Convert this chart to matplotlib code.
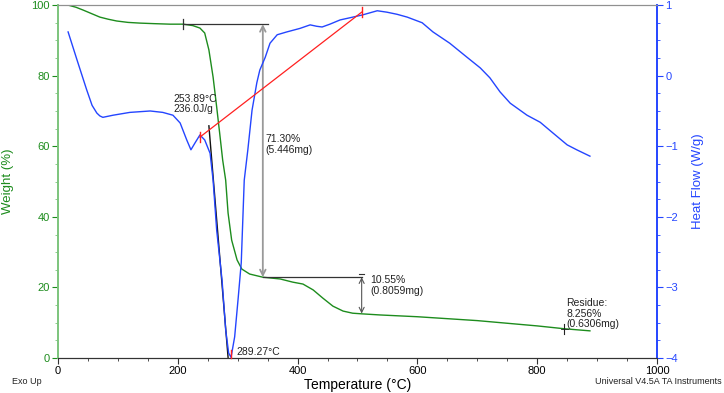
import matplotlib
matplotlib.use("Agg")
import matplotlib.pyplot as plt
from matplotlib.ticker import MultipleLocator

plt.rcParams['font.family'] = ['Liberation Sans', 'DejaVu Sans']

# --- TGA weight curve (%) ---
tga_temp = [17, 30, 42, 56, 70, 84, 98, 117, 137, 160, 187, 209, 225, 237, 245, 252, 259, 265, 270, 275, 280,
            284, 290, 299, 307, 320, 342, 371, 392, 409, 426, 442, 459, 476, 492, 509, 538,
            600, 700, 800, 845, 888]
tga_weight = [100, 99.4, 98.6, 97.6, 96.6, 96.0, 95.5, 95.1, 94.9, 94.75, 94.6, 94.6, 94.2, 93.5, 92.1, 87.3,
              79.6, 71.1, 63.7, 56.1, 50.4,
              41.1, 33.4, 27.8, 25.2, 23.8, 22.9, 22.4, 21.5, 20.96, 19.3, 17.0, 14.7, 13.3, 12.7, 12.5, 12.2,
              11.7, 10.6, 9.1, 8.3, 7.7]

# --- DSC heat flow curve (W/g) ---
dsc_temp = [17, 32, 48, 57, 65, 70, 75, 92, 120, 154, 175, 192, 204, 215, 222, 229, 237, 245, 254,
            259, 265, 274, 280, 285, 289, 295, 301, 306, 311, 317, 324, 332, 337, 346, 354, 366,
            382, 404, 421, 432, 441, 454, 471, 487, 508, 533, 549, 566, 583, 608, 626, 654, 683,
            705, 721, 738, 755, 783, 805, 826, 850, 866, 888]
dsc_flow = [0.62, 0.22, -0.20, -0.42, -0.53, -0.57, -0.59, -0.56, -0.52, -0.50, -0.52, -0.56, -0.67, -0.91,
            -1.05, -0.95, -0.84, -0.91, -1.10, -1.48, -2.19, -2.90, -3.60, -3.93, -3.99, -3.70,
            -3.14, -2.65, -1.48, -1.05, -0.49, -0.10, 0.08, 0.26, 0.46, 0.58,
            0.62, 0.67, 0.72, 0.70, 0.69, 0.73, 0.79, 0.82, 0.86, 0.92, 0.90, 0.87, 0.83, 0.75, 0.62, 0.46, 0.26,
            0.11, -0.03, -0.23, -0.39, -0.56, -0.66, -0.81, -0.98, -1.05, -1.14]

x_ticks = [0, 200, 400, 600, 800, 1000]
w_ticks = [0, 20, 40, 60, 80, 100]
hf_ticks = [-4, -3, -2, -1, 0, 1]

# step annotations
step1 = {"t_start": 209, "t_arrow": 342, "t_end": 351, "w_top": 94.6, "w_bot": 22.9,
         "label": "71.30%\n(5.446mg)"}
step2 = {"t_start": 342, "t_arrow": 507, "w_top": 22.9, "w_bot": 12.6,
         "label": "10.55%\n(0.8059mg)"}
residue = {"t": 845, "w": 8.256, "label": "Residue:\n8.256%\n(0.6306mg)"}
peak = {"t": 289.27, "label": "289.27°C", "onset_label": "253.89°C\n236.0J/g"}
baseline_t = [237, 507]
baseline_hf = [-0.87, 0.90]
onset_t = [252, 284]
onset_hf = [-0.71, -3.99]

GREEN = '#1d8c1d'
BLUE = '#2445ff'

fig = plt.figure(figsize=(7.24, 3.93), dpi=100)
ax = fig.add_axes([0.080, 0.089, 0.8275, 0.898])
ax2 = ax.twinx()

ax.plot(tga_temp, tga_weight, color=GREEN, lw=1.0, zorder=3)
ax2.plot(dsc_temp, dsc_flow, color=BLUE, lw=1.0, zorder=3)

ax.set_xlim(0, 1000)
ax.set_ylim(0, 100)
ax2.set_ylim(-4, 1)

ax.set_xticks(x_ticks)
ax.set_yticks(w_ticks)
ax2.set_yticks(hf_ticks)
ax.xaxis.set_minor_locator(MultipleLocator(50))
ax.yaxis.set_minor_locator(MultipleLocator(5))
ax2.yaxis.set_minor_locator(MultipleLocator(0.25))

ax.tick_params(axis='x', which='major', length=4, labelsize=8, pad=2, color='#333333')
ax.tick_params(axis='x', which='minor', length=2.5, color='#333333')
ax.tick_params(axis='y', which='major', length=4, labelsize=8, pad=2, colors=GREEN)
ax.tick_params(axis='y', which='minor', length=2.5, color='#7cc47c')
ax2.tick_params(axis='y', which='major', length=4, labelsize=8, pad=2, colors=BLUE)
ax2.tick_params(axis='y', which='minor', length=2.5, color=BLUE)
ax2.tick_params(axis='y', labelcolor=BLUE)

for a in (ax, ax2):
    a.spines['top'].set_color('#909090')
    a.spines['bottom'].set_color('#333333')
    a.spines['left'].set_color('#7cc47c')
    a.spines['right'].set_color(BLUE)
    a.spines['left'].set_linewidth(1.2)
    a.spines['right'].set_linewidth(1.2)

ax.set_ylabel('Weight (%)', color=GREEN, fontsize=9.5, labelpad=12)
ax2.set_ylabel('Heat Flow (W/g)', color=BLUE, fontsize=9.5, labelpad=10)
ax.set_xlabel('Temperature (°C)', fontsize=10, labelpad=1.5)

# step 1
ax.plot([step1["t_start"], step1["t_end"]], [step1["w_top"], step1["w_top"]], color='#333333', lw=0.9, zorder=4)
ax.plot([step1["t_start"]] * 2, [step1["w_top"] - 1.5, step1["w_top"] + 1.5], color='#333333', lw=0.9, zorder=4)
ax.annotate('', xy=(step1["t_arrow"], step1["w_top"]), xytext=(step1["t_arrow"], step1["w_bot"]),
            arrowprops=dict(arrowstyle='<->', color='#999999', lw=1.3, shrinkA=0, shrinkB=0,
                            mutation_scale=10), zorder=4)
ax.text(step1["t_arrow"] + 4, 60.5, step1["label"], fontsize=7.5, color='#222222',
        va='center', ha='left', linespacing=1.05)

# step 2
ax.plot([step2["t_start"], step2["t_arrow"]], [step2["w_top"], step2["w_top"]], color='#333333', lw=0.9, zorder=4)
ax.plot([step2["t_arrow"] - 4, step2["t_arrow"] + 4], [step2["w_top"] + 0.8] * 2, color='#333333', lw=0.8)
ax.annotate('', xy=(step2["t_arrow"], step2["w_top"]), xytext=(step2["t_arrow"], step2["w_bot"]),
            arrowprops=dict(arrowstyle='<->', color='#555555', lw=0.8, shrinkA=0, shrinkB=0,
                            mutation_scale=9), zorder=4)
ax.text(step2["t_arrow"] + 15, 20.5, step2["label"], fontsize=7.5, color='#222222',
        va='center', ha='left', linespacing=1.05)

# residue
ax.plot([residue["t"]] * 2, [residue["w"] - 1.4, residue["w"] + 1.4], color='#222222', lw=0.8, zorder=4)
ax.plot([residue["t"] - 6, residue["t"] + 6], [residue["w"]] * 2, color='#222222', lw=0.6, zorder=4)
ax.text(residue["t"] + 4, 12.6, residue["label"], fontsize=7.5, color='#222222',
        va='center', ha='left', linespacing=1.05)

# DSC annotations
ax2.plot(baseline_t, baseline_hf, color='#ff2020', lw=0.9, zorder=4)
for t, h in zip(baseline_t, baseline_hf):
    ax2.plot([t, t], [h - 0.07, h + 0.07], color='#ff2020', lw=1.0, zorder=4)
ax2.plot(onset_t, onset_hf, color='#111111', lw=1.0, zorder=2)
ax2.plot([peak["t"]] * 2, [-4, -3.88], color='#ff2020', lw=1.0, zorder=5, clip_on=False)
ax2.text(193, -0.40, peak["onset_label"], fontsize=7.5, color='#222222',
         va='center', ha='left', linespacing=1.05)
ax2.text(298, -3.92, peak["label"], fontsize=7.5, color='#222222', va='center', ha='left')

fig.text(0.017, 0.018, 'Exo Up', fontsize=6.5, color='#222222', ha='left', va='bottom')
fig.text(0.997, 0.018, 'Universal V4.5A TA Instruments', fontsize=6.5, color='#222222',
         ha='right', va='bottom')

fig.savefig('out.png', dpi=100)
